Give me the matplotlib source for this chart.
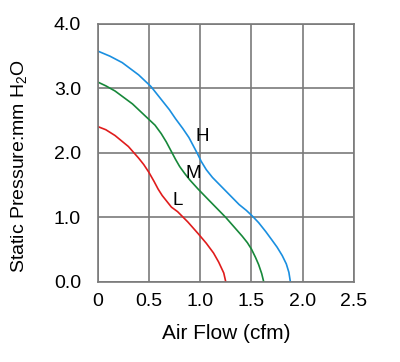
import numpy as np
import matplotlib
matplotlib.use("Agg")
import matplotlib.pyplot as plt

plt.rcParams['font.family'] = ['Liberation Sans', 'DejaVu Sans']
plt.rcParams['mathtext.fontset'] = 'custom'
plt.rcParams['mathtext.rm'] = 'Liberation Sans'

#Curve data (air flow cfm, static pressure mm H2O)
h_flow = [0, 0.12, 0.24, 0.40, 0.52, 0.63, 0.70, 0.76, 0.83, 0.89, 0.93, 0.97,
          1.01, 1.06, 1.12, 1.25, 1.38, 1.45, 1.51, 1.57, 1.64, 1.70, 1.75,
          1.80, 1.84, 1.865, 1.88]
h_pres = [3.58, 3.50, 3.40, 3.21, 3.03, 2.81, 2.67, 2.53, 2.38, 2.24, 2.12, 2.0,
          1.87, 1.74, 1.62, 1.41, 1.20, 1.11, 1.02, 0.92, 0.78, 0.65, 0.54,
          0.41, 0.28, 0.15, 0]

m_flow = [0, 0.08, 0.17, 0.34, 0.50, 0.56, 0.62, 0.67, 0.72, 0.76, 0.80, 0.85,
          0.90, 0.98, 1.09, 1.25, 1.41, 1.46, 1.50, 1.54, 1.57, 1.60, 1.62]
m_pres = [3.10, 3.04, 2.96, 2.76, 2.52, 2.43, 2.30, 2.17, 2.02, 1.90, 1.79, 1.68,
          1.58, 1.44, 1.26, 1.0, 0.71, 0.61, 0.51, 0.38, 0.27, 0.13, 0]

l_flow = [0, 0.08, 0.17, 0.30, 0.40, 0.45, 0.50, 0.55, 0.59, 0.63, 0.68, 0.72,
          0.78, 0.88, 0.98, 1.06, 1.13, 1.18, 1.23, 1.25]
l_pres = [2.41, 2.36, 2.27, 2.10, 1.92, 1.82, 1.70, 1.56, 1.44, 1.34, 1.24, 1.16,
          1.09, 0.93, 0.75, 0.60, 0.45, 0.31, 0.14, 0]

x_ticks = [0, 0.5, 1.0, 1.5, 2.0, 2.5]
x_labels = ['0', '0.5', '1.0', '1.5', '2.0', '2.5']
y_ticks = [0, 1, 2, 3, 4]
y_labels = ['0.0', '1.0', '2.0', '3.0', '4.0']

fig = plt.figure(figsize=(4.0, 3.62), dpi=100)
ax = fig.add_axes([0.244, 0.221, 0.641, 0.713])

line_kw = dict(lw=1.2, solid_joinstyle='round', solid_capstyle='round')
ax.plot(h_flow, h_pres, color='#1a8fe0', **line_kw)
ax.plot(m_flow, m_pres, color='#17883a', **line_kw)
ax.plot(l_flow, l_pres, color='#e01c1c', **line_kw)

ax.text(1.02, 2.25, 'H', fontsize=13.5, ha='center', va='center')
ax.text(0.93, 1.68, 'M', fontsize=13.5, ha='center', va='center')
ax.text(0.78, 1.26, 'L', fontsize=13.5, ha='center', va='center')

ax.set_xlim(0, 2.5)
ax.set_ylim(0, 4.0)
ax.set_xticks(x_ticks)
ax.set_xticklabels(x_labels)
ax.set_yticks(y_ticks)
ax.set_yticklabels(y_labels)
ax.tick_params(length=0, labelsize=14, pad=8)
ax.tick_params(axis='y', pad=12)
ax.grid(True, color='#7a7a7a', lw=1.2)
ax.set_axisbelow(True)
for s in ax.spines.values():
    s.set_color('#7a7a7a')
    s.set_linewidth(1.2)

ax.set_xlabel('Air Flow (cfm)', fontsize=15, labelpad=10)
ax.set_ylabel('Static Pressure:mm H$_\\mathregular{2}$O', fontsize=14)
ax.yaxis.set_label_coords(-0.262, 0.45)

fig.savefig('out.png', dpi=100)
